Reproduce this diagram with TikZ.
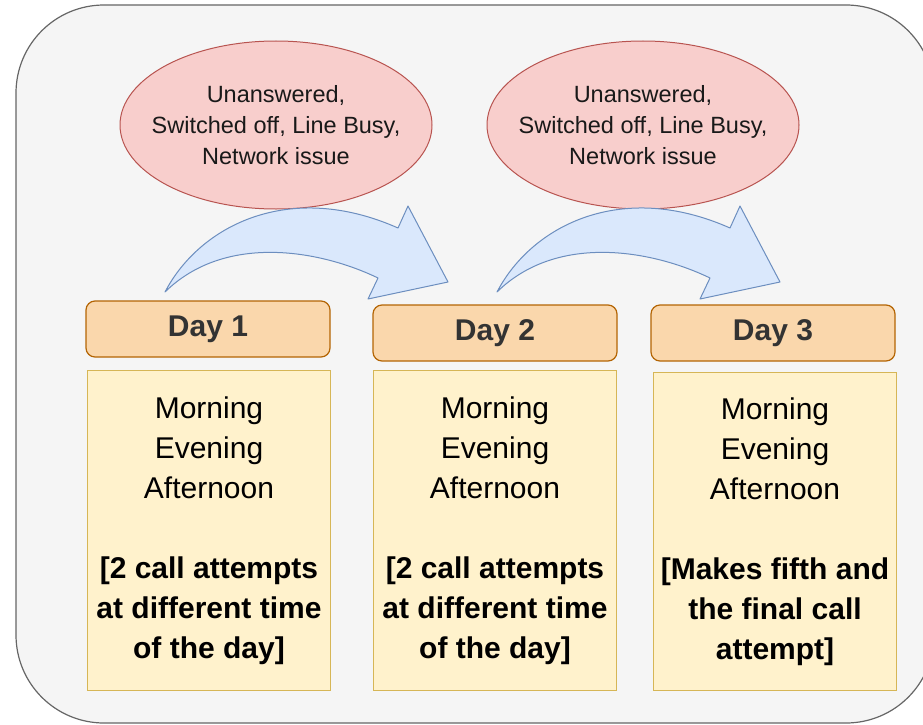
\documentclass[tikz,border=0pt]{standalone}
\usepackage{fontspec}
\setmainfont{Liberation Sans}
\usetikzlibrary{shapes.geometric,positioning}

\definecolor{panelfill}{HTML}{F5F5F5}
\definecolor{panelline}{HTML}{666666}
\definecolor{reasonfill}{HTML}{F8CECC}
\definecolor{reasonline}{HTML}{B85450}
\definecolor{dayfill}{HTML}{FAD7AC}
\definecolor{dayline}{HTML}{B46504}
\definecolor{daytext}{HTML}{333333}
\definecolor{slotfill}{HTML}{FFF2CC}
\definecolor{slotline}{HTML}{D6B656}
\definecolor{bendfill}{HTML}{DAE8FC}
\definecolor{bendline}{HTML}{6C8EBF}

\begin{document}
\begin{tikzpicture}[x=1pt, y=-1pt]
  \tikzstyle{panel} = [draw=panelline, fill=panelfill, line width=1.2pt, rounded corners=88pt]
  \tikzstyle{reason} = [ellipse, draw=reasonline, fill=reasonfill, line width=1pt, inner sep=0pt, minimum width=312pt, minimum height=168pt]
  \tikzstyle{reasontext} = [align=center, text=black!90, font=\fontsize{23.5}{31}\selectfont]
  \tikzstyle{daybox} = [draw=dayline, fill=dayfill, rounded corners=9pt, line width=1.2pt, minimum width=244pt, minimum height=56pt, font=\fontsize{30}{36}\selectfont\bfseries, text=daytext]
  \tikzstyle{slotbox} = [draw=slotline, fill=slotfill, line width=1.2pt, minimum width=243pt, minimum height=320pt, inner sep=2pt, align=center, anchor=north, font=\fontsize{30}{40}\selectfont]
  \tikzstyle{hoparrow} = [draw=bendline, fill=bendfill, line width=1pt, line join=round]

  \useasboundingbox (0,0) rectangle (923,725);
  \clip (0,0) rectangle (923,725);
  \draw[panel] (16,5) rectangle (934,723);

  % retry reasons
  \node[reason, label={[reasontext]center:Unanswered,\\Switched off, Line Busy,\\Network issue}] (why1) at (276,125) {};
  \node[reason, label={[reasontext]center:Unanswered,\\Switched off, Line Busy,\\Network issue}] (why2) at (643,125) {};

  % curved arrows between days
  \foreach \dx in {0,332} {
    \draw[hoparrow, shift={(\dx,0)}] (165,292) .. controls (200,225) and (290,180) .. (398,228)
      -- (408,206) -- (448,282) -- (368,299) -- (378,278)
      .. controls (320,250) and (225,233) .. (165,292) -- cycle;
  }

  % days
  \node[daybox] (day1) at (208,329) {Day 1};
  \node[daybox] (day2) at (495,333) {Day 2};
  \node[daybox] (day3) at (773,333) {Day 3};

  % call slots
  \node[slotbox] (slot1) at (209,370) {Morning\\Evening\\Afternoon\\[40pt]\textbf{[2 call attempts}\\\textbf{at different time}\\\textbf{of the day]}};
  \node[slotbox] (slot2) at (495,370) {Morning\\Evening\\Afternoon\\[40pt]\textbf{[2 call attempts}\\\textbf{at different time}\\\textbf{of the day]}};
  \node[slotbox, minimum height=318pt] (slot3) at (775,372) {Morning\\Evening\\Afternoon\\[40pt]\textbf{[Makes fifth and}\\\textbf{the final call}\\\textbf{attempt]}};
\end{tikzpicture}
\end{document}
